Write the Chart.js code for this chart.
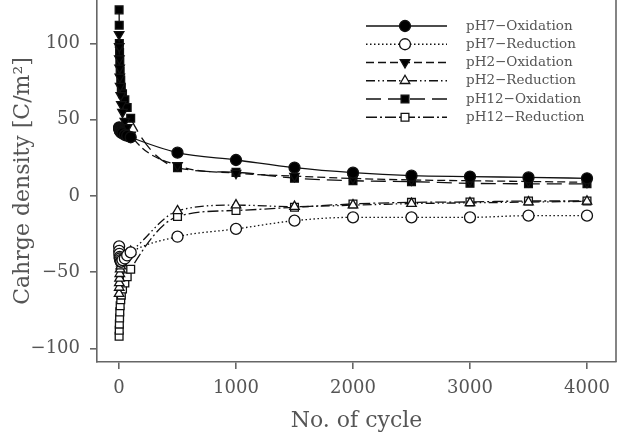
<!DOCTYPE html>
<html><head><meta charset="utf-8">
<script src="https://cdn.jsdelivr.net/npm/chart.js@4/dist/chart.umd.min.js"></script>
<style>html,body{margin:0;padding:0;background:#fff}#wrap{width:622px;height:440px}</style>
</head><body><div id="wrap"><canvas id="c" width="622" height="440"></canvas></div>
<script>
const cycles = [1, 2, 3, 5, 7, 10, 15, 20, 30, 50, 70, 100, 500, 1000, 1500, 2000, 2500, 3000, 3500, 4000];
const pH7Ox  = [45, 44.5, 44, 43.5, 43, 42.5, 42, 41.5, 41, 40, 39.5, 38.5, 28.4, 23.6, 18.6, 15.3, 13.3, 12.7, 12.2, 11.6];
const pH7Red = [-33, -36, -38, -40, -41, -42, -43, -43, -42, -41, -39, -37, -26.7, -21.6, -16.2, -14, -14, -14, -12.9, -12.9];
const pH2Ox  = [106, 98, 90, 84, 78, 72, 66, 60, 55, 49, 45, 40, 20, 15, 13, 11.5, 10.5, 10, 9.5, 9];
const pH2Red = [-64, -60, -57, -54, -51, -48, -46, -44, -42, -40, -38, -36.5, -9.8, -6, -7, -6, -5, -4.5, -4, -3.5];
const pH12Ox = [122, 112, 100, 94, 88, 82, 76, 71, 67, 63, 58, 51, 18.6, 15.5, 11.6, 10, 9.4, 8.3, 8, 8];
const pH12Red= [-92, -88, -84, -80, -76, -72, -68, -65, -61, -57, -53, -48, -13.5, -9.5, -7.4, -5.2, -4.2, -3.9, -3.3, -3.3];
const seriesNames = ['pH7\u2212Oxidation','pH7\u2212Reduction','pH2\u2212Oxidation','pH2\u2212Reduction','pH12\u2212Oxidation','pH12\u2212Reduction'];
const xTicks = [0, 1000, 2000, 3000, 4000];
const yTicks = [-100, -50, 0, 50, 100];

const series = [pH7Ox, pH7Red, pH2Ox, pH2Red, pH12Ox, pH12Red];
const styles = [
  {ps:'circle', rot:0, fill:'#000', dash:[]},
  {ps:'circle', rot:0, fill:'#fff', dash:[1.5,2.5]},
  {ps:'triangle', rot:180, fill:'#000', dash:[8,4]},
  {ps:'triangle', rot:0, fill:'#fff', dash:[9,3,1.5,3,1.5,3]},
  {ps:'rect', rot:0, fill:'#000', dash:[15,7]},
  {ps:'rect', rot:0, fill:'#fff', dash:[11,3,2,3]}
];
const datasets = series.map((vals,i)=>({
  label: seriesNames[i],
  data: cycles.map((c,j)=>({x:c,y:vals[j]})),
  borderColor:'#111', borderWidth:1.3, borderDash:styles[i].dash,
  pointStyle:styles[i].ps, pointRotation:styles[i].rot,
  pointBackgroundColor:styles[i].fill, pointBorderColor:'#111', pointBorderWidth:1.3,
  pointRadius:5.5, pointHoverRadius:5.5,
  cubicInterpolationMode:'monotone', fill:false
}));

const frame = {
  id:'frame',
  afterDraw(chart){
    const {ctx, chartArea:a} = chart;
    ctx.save();
    ctx.strokeStyle='#666'; ctx.lineWidth=1.6;
    ctx.beginPath(); ctx.moveTo(a.right, a.top); ctx.lineTo(a.right, a.bottom); ctx.stroke();
    // legend
    const x0=366, x1=447, xm=405, xt=466, y0=26, dy=18.25;
    ctx.font='13.5px "DejaVu Serif"'; ctx.textBaseline='middle'; ctx.textAlign='left';
    chart.data.datasets.forEach((ds,i)=>{
      const y=y0+i*dy;
      ctx.strokeStyle='#111'; ctx.lineWidth=1.3; ctx.setLineDash(ds.borderDash);
      ctx.beginPath(); ctx.moveTo(x0,y); ctx.lineTo(x1,y); ctx.stroke();
      ctx.setLineDash([]);
      ctx.fillStyle=ds.pointBackgroundColor; ctx.strokeStyle='#111'; ctx.lineWidth=1.3;
      Chart.helpers.drawPoint(ctx,{pointStyle:ds.pointStyle,rotation:ds.pointRotation,radius:5.5,borderWidth:1.3},xm,y);
      ctx.fillStyle='#555';
      ctx.fillText(ds.label, xt, y);
    });
    ctx.restore();
  }
};

new Chart(document.getElementById('c'), {
  type:'line',
  data:{datasets},
  options:{
    responsive:false, animation:false, events:[],
    layout:{autoPadding:false, padding:{left:0,right:6,top:0,bottom:0}},
    plugins:{legend:{display:false}, tooltip:{enabled:false}},
    scales:{
      x:{type:'linear', min:-188, max:4248,
        afterBuildTicks:s=>{s.ticks=xTicks.map(v=>({value:v}));},
        afterFit:s=>{s.height=78; s.paddingLeft=0; s.paddingRight=0; s.paddingTop=0; s.paddingBottom=0;},
        grid:{display:true, drawOnChartArea:false, drawTicks:true, tickLength:7, color:'#666', lineWidth:1.6},
        border:{display:true, color:'#666', width:1.6},
        ticks:{color:'#555', padding:9, font:{family:'DejaVu Serif', size:18}, maxRotation:0, autoSkip:false,
          callback:v=>String(v)},
        title:{display:true, text:'No. of cycle', color:'#555', font:{family:'DejaVu Serif', size:22}, padding:{top:0,bottom:6}}
      },
      y:{type:'linear', min:-108.85, max:128.5,
        afterBuildTicks:s=>{s.ticks=yTicks.map(v=>({value:v}));},
        afterFit:s=>{s.width=97; s.paddingTop=0; s.paddingBottom=0; s.paddingLeft=0; s.paddingRight=0;},
        grid:{display:true, drawOnChartArea:false, drawTicks:true, tickLength:7, color:'#666', lineWidth:1.6},
        border:{display:true, color:'#666', width:1.6},
        ticks:{color:'#555', padding:10, font:{family:'DejaVu Serif', size:18}, autoSkip:false,
          callback:v=>String(v).replace('-','\u2212')},
        title:{display:true, text:'Cahrge density [C/m\u00B2]', color:'#555', font:{family:'DejaVu Serif', size:22}, padding:{top:10,bottom:0}}
      }
    }
  },
  plugins:[frame]
});
</script></body></html>
